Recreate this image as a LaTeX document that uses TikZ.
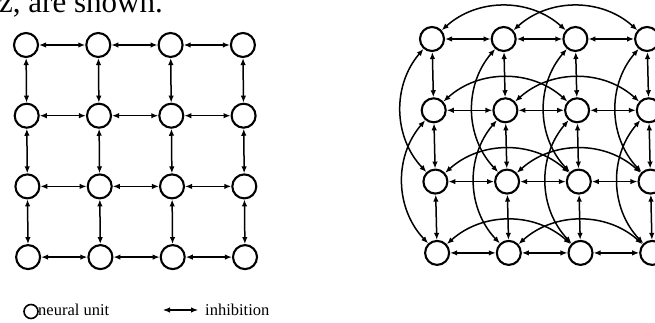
\documentclass[tikz,border=0pt]{standalone}
\usepackage{fontspec}
\setmainfont{Liberation Serif}
\usetikzlibrary{arrows.meta}
\usetikzlibrary{math}

\tikzset{
unit/.style={circle, draw, line width=2.1, minimum size=24pt, inner sep=0pt},
inhib/.style={{Latex[length=7pt,width=5.5pt]}-{Latex[length=7pt,width=5.5pt]}, line width=1.5},
keyfont/.style={anchor=base west, inner sep=0, font=\fontsize{16.5}{18}\selectfont},
}

\begin{document}
\begin{tikzpicture}[x=1pt,y=1pt]
\tikzmath{
\bend=42;
}
\useasboundingbox (0,0) rectangle (655,323);

\node[anchor=base west, inner sep=0, font=\fontsize{31}{33}\selectfont] (head) at (-1,310) {z, are shown.};

% plain lattice, nearest neighbours only
\foreach \r in {0,...,3}{
  \foreach \c in {0,...,3}{
    \node[unit] (L-\r-\c) at (26+72.3*\c+0.7*\r, 278-70.7*\r) {};
  }
}
\foreach \r in {0,...,3}{
  \foreach \c [count=\n] in {0,1,2}{
    \draw[inhib] (L-\r-\c) -- (L-\r-\n);
    \draw[inhib] (L-\c-\r) -- (L-\n-\r);
  }
}

% second lattice, with the jumps over one unit
\foreach \r in {0,...,3}{
  \foreach \c in {0,...,3}{
    \node[unit] (R-\r-\c) at (432+71.7*\c+1.7*\r, 284-71.3*\r) {};
  }
}
\foreach \r in {0,...,3}{
  \foreach \c [count=\n] in {0,1,2}{
    \draw[inhib] (R-\r-\c) -- (R-\r-\n);
    \draw[inhib] (R-\c-\r) -- (R-\n-\r);
  }
  \foreach \c [count=\n from 2] in {0,1}{
    \draw[inhib] (R-\r-\c) to[bend left=\bend] (R-\r-\n);
    \draw[inhib] (R-\c-\r) to[bend right=\bend] (R-\n-\r);
  }
}

% key
\node[unit, line width=1.6, minimum size=14pt] (key) at (31,11.5) {};
\node[keyfont] (keytxt) at (38,7) {neural unit};
\coordinate (inA) at (163,13);
\coordinate (inB) at (198,13);
\draw[inhib, line width=1.1] (inA) -- (inB);
\node[keyfont] (inhtxt) at (205,7) {inhibition};

\end{tikzpicture}
\end{document}
